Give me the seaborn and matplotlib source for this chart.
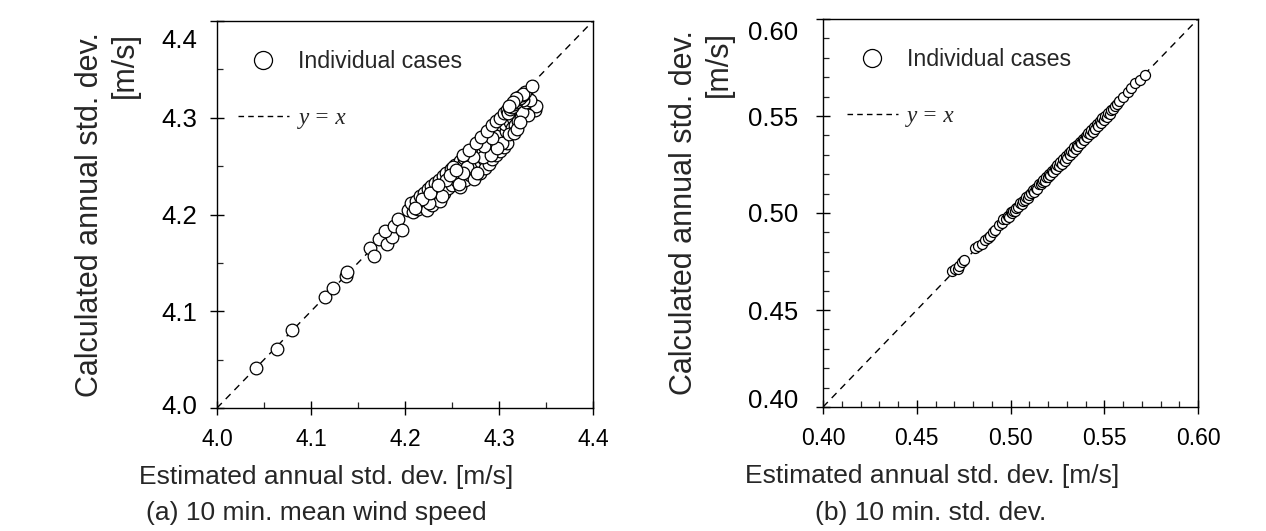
import matplotlib
matplotlib.use("Agg")
import matplotlib.pyplot as plt
import matplotlib.transforms as mtransforms
from matplotlib.lines import Line2D
from matplotlib.ticker import MultipleLocator, FormatStrFormatter
import seaborn as sns
import pandas as pd

# ---------------- data ----------------
# (a) 10 min. mean wind speed
a_est = [4.042, 4.064, 4.080, 4.115, 4.123, 4.137, 4.138, 4.163, 4.167, 4.172,
         4.181, 4.186, 4.179, 4.188, 4.193, 4.197, 4.203, 4.209, 4.206,
         4.212, 4.214, 4.216, 4.218, 4.220, 4.221, 4.223, 4.224, 4.226, 4.228, 4.229, 4.231,
         4.232, 4.234, 4.236, 4.237, 4.238, 4.240, 4.241, 4.243, 4.244, 4.246, 4.247, 4.249, 4.250,
         4.252, 4.253, 4.255, 4.256, 4.258, 4.259, 4.260, 4.261, 4.263, 4.264, 4.265, 4.267, 4.268, 4.269,
         4.270, 4.271, 4.272, 4.273, 4.274, 4.275, 4.276, 4.278, 4.279, 4.280, 4.281, 4.282, 4.283,
         4.284, 4.285, 4.286, 4.287, 4.288, 4.289,
         4.290, 4.291, 4.292, 4.293, 4.294, 4.295, 4.296, 4.297, 4.298, 4.299, 4.300, 4.301, 4.302,
         4.303, 4.304, 4.305, 4.306, 4.307, 4.308, 4.309,
         4.244, 4.251, 4.257, 4.266, 4.277, 4.283, 4.291, 4.297, 4.303, 4.307, 4.313, 4.298,
         4.262, 4.239, 4.226, 4.218, 4.211, 4.227, 4.235, 4.248, 4.254, 4.272, 4.284, 4.293,
         4.306, 4.319, 4.327, 4.336, 4.330, 4.323,
         4.312, 4.315, 4.318, 4.321, 4.314, 4.317, 4.320, 4.323, 4.311, 4.316, 4.319,
         4.325, 4.328, 4.330, 4.332, 4.334, 4.336, 4.338, 4.339, 4.327, 4.331, 4.324, 4.329, 4.333, 4.326, 4.322,
         4.262, 4.268, 4.275, 4.281, 4.287, 4.293, 4.297, 4.301, 4.305, 4.309, 4.313, 4.317,
         4.321, 4.325, 4.328,
         4.310, 4.312, 4.314, 4.316, 4.318, 4.320, 4.322, 4.324, 4.326, 4.318, 4.315, 4.311, 4.335]
a_calc = [4.041, 4.061, 4.081, 4.115, 4.124, 4.136, 4.141, 4.165, 4.157, 4.175,
          4.170, 4.177, 4.183, 4.188, 4.195, 4.184, 4.205, 4.203, 4.212,
          4.214, 4.206, 4.219, 4.209, 4.222, 4.213, 4.205, 4.226, 4.217, 4.229, 4.210, 4.221,
          4.233, 4.225, 4.236, 4.214, 4.229, 4.240, 4.222, 4.233, 4.243, 4.227, 4.238, 4.247, 4.231,
          4.242, 4.251, 4.235, 4.246, 4.255, 4.228, 4.240, 4.250, 4.258, 4.236, 4.245, 4.262, 4.253, 4.241,
          4.266, 4.257, 4.246, 4.237, 4.269, 4.260, 4.251, 4.272, 4.263, 4.243, 4.254, 4.276, 4.266,
          4.257, 4.248, 4.279, 4.270, 4.261, 4.252,
          4.283, 4.274, 4.265, 4.257, 4.288, 4.279, 4.270, 4.262, 4.292, 4.284, 4.275, 4.266, 4.296,
          4.288, 4.279, 4.270, 4.300, 4.291, 4.283, 4.274,
          4.236, 4.249, 4.232, 4.249, 4.243, 4.259, 4.262, 4.281, 4.274, 4.286, 4.292, 4.269,
          4.243, 4.219, 4.212, 4.216, 4.207, 4.222, 4.231, 4.241, 4.246, 4.259, 4.271, 4.279,
          4.294, 4.301, 4.309, 4.313, 4.321, 4.315,
          4.296, 4.300, 4.304, 4.308, 4.289, 4.293, 4.297, 4.301, 4.283, 4.284, 4.288,
          4.313, 4.311, 4.309, 4.306, 4.312, 4.310, 4.308, 4.312, 4.304, 4.303, 4.306, 4.316, 4.318, 4.318, 4.296,
          4.262, 4.267, 4.274, 4.280, 4.286, 4.292, 4.297, 4.300, 4.305, 4.308, 4.313, 4.317,
          4.321, 4.324, 4.327,
          4.305, 4.309, 4.311, 4.314, 4.316, 4.319, 4.320, 4.323, 4.325, 4.320, 4.316, 4.312, 4.333]

# (b) 10 min. std. dev.
b_est = [0.4690, 0.4705, 0.4718, 0.4725, 0.4740, 0.4752, 0.4810, 0.4828, 0.4846, 0.4862,
         0.4878, 0.4890, 0.4905, 0.4917, 0.4940, 0.4955, 0.4962, 0.4975, 0.4985, 0.4992,
         0.5000, 0.5008, 0.5015, 0.5022, 0.5030, 0.5040, 0.5052, 0.5060, 0.5068, 0.5075,
         0.5085, 0.5092, 0.5100, 0.5110, 0.5118, 0.5125, 0.5135, 0.5142, 0.5150, 0.5160,
         0.5168, 0.5175, 0.5182, 0.5190, 0.5198, 0.5205, 0.5212, 0.5220, 0.5228, 0.5235,
         0.5242, 0.5250, 0.5258, 0.5265, 0.5272, 0.5280, 0.5288, 0.5295, 0.5302, 0.5310,
         0.5318, 0.5325, 0.5332, 0.5340, 0.5348, 0.5355, 0.5362, 0.5370, 0.5378, 0.5385,
         0.5392, 0.5400, 0.5408, 0.5415, 0.5422, 0.5430, 0.5438, 0.5445, 0.5452, 0.5460,
         0.5468, 0.5475, 0.5482, 0.5490, 0.5498, 0.5505, 0.5512, 0.5520, 0.5528, 0.5535,
         0.5545, 0.5555, 0.5568, 0.5580, 0.5602, 0.5625, 0.5645, 0.5664, 0.5690, 0.5717]
b_calc = [0.4702, 0.4710, 0.4712, 0.4728, 0.4745, 0.4760, 0.4818, 0.4830, 0.4838, 0.4860,
          0.4872, 0.4880, 0.4903, 0.4912, 0.4936, 0.4948, 0.4970, 0.4968, 0.4982, 0.4978,
          0.5005, 0.5000, 0.5012, 0.5010, 0.5025, 0.5032, 0.5050, 0.5048, 0.5062, 0.5068,
          0.5083, 0.5075, 0.5095, 0.5102, 0.5118, 0.5110, 0.5130, 0.5125, 0.5148, 0.5152,
          0.5160, 0.5170, 0.5164, 0.5188, 0.5185, 0.5200, 0.5198, 0.5218, 0.5212, 0.5230,
          0.5225, 0.5248, 0.5240, 0.5262, 0.5255, 0.5276, 0.5270, 0.5292, 0.5285, 0.5308,
          0.5300, 0.5322, 0.5315, 0.5338, 0.5330, 0.5352, 0.5345, 0.5368, 0.5360, 0.5382,
          0.5375, 0.5398, 0.5390, 0.5412, 0.5405, 0.5428, 0.5420, 0.5443, 0.5435, 0.5458,
          0.5450, 0.5472, 0.5465, 0.5488, 0.5480, 0.5502, 0.5495, 0.5518, 0.5510, 0.5532,
          0.5538, 0.5552, 0.5560, 0.5578, 0.5599, 0.5622, 0.5642, 0.5668, 0.5688, 0.5713]

a_lim = [4.0, 4.4]
b_lim = [0.40, 0.60]
a_ticks = [4.0, 4.1, 4.2, 4.3, 4.4]
b_ticks = [0.40, 0.45, 0.50, 0.55, 0.60]

x_label = "Estimated annual std. dev. [m/s]"
y_label = "Calculated annual std. dev.\n[m/s]"
subtitles = ["(a) 10 min. mean wind speed", "(b) 10 min. std. dev."]
leg_labels = ["Individual cases", "y = x"]

# ---------------- style ----------------
sns.set_style("ticks")
plt.rcParams["font.family"] = ["Liberation Sans", "DejaVu Sans"]
plt.rcParams["axes.linewidth"] = 1.0

fig = plt.figure(figsize=(12.66, 5.31), dpi=100)
W, H = 1266, 531

def frac(x0, x1, ytop, ybot):
    return [x0 / W, 1 - ybot / H, (x1 - x0) / W, (ybot - ytop) / H]

ax_a = fig.add_axes(frac(217, 593, 21, 408))
ax_b = fig.add_axes(frac(823, 1198, 19, 407))

# ax, x, y, limits, ticks, minor step, format, marker size, subtitle,
# (top/bottom ytick label shift px), ytick pad, ylabel pad, subtitle x, legend x
panels = [
    (ax_a, a_est, a_calc, a_lim, a_ticks, 0.05, "%.1f", 83, subtitles[0], (-17, 3), 9.0, 16, 0.265, 0.055),
    (ax_b, b_est, b_calc, b_lim, b_ticks, 0.01, "%.2f", 52, subtitles[1], (-12, 8), 13.0, 10, 0.288, 0.063),
]

dash = (0, (5, 4))
for ax, xe, yc, lim, ticks, minor, fmt, msize, sub, shifts, ypad, lpad, subx, legx in panels:
    df = pd.DataFrame({"est": xe, "calc": yc})
    ax.plot(lim, lim, color="black", lw=1.0, linestyle=dash, zorder=1)
    sns.scatterplot(data=df, x="est", y="calc", ax=ax, s=msize, color="white",
                    edgecolor="black", linewidth=0.9, zorder=3, legend=False)
    ax.set_xlim(lim)
    ax.set_ylim(lim)
    ax.set_xticks(ticks)
    ax.set_yticks(ticks)
    ax.xaxis.set_minor_locator(MultipleLocator(minor))
    ax.yaxis.set_minor_locator(MultipleLocator(minor))
    ax.xaxis.set_major_formatter(FormatStrFormatter(fmt))
    ax.yaxis.set_major_formatter(FormatStrFormatter(fmt))
    ax.tick_params(which="major", direction="inout", length=10, width=1.0, colors="black")
    ax.tick_params(axis="x", which="major", labelsize=16.5, pad=9.5)
    ax.tick_params(axis="y", which="major", labelsize=18.5, pad=ypad)
    ax.tick_params(which="minor", direction="in", length=4.5, width=0.9)
    for s in ax.spines.values():
        s.set_visible(True)
        s.set_color("black")
        s.set_linewidth(1.0)
    ax.set_xlabel(x_label, fontsize=19)
    ax.set_ylabel(y_label, fontsize=22, multialignment="right", labelpad=lpad)
    ax.xaxis.set_label_coords(0.29, -0.148)
    ax.text(subx, -0.272, sub, transform=ax.transAxes, ha="center", va="center",
            fontsize=19)
    # shift edge y tick labels inwards as in reference
    fig.canvas.draw()
    ylabs = ax.get_yticklabels()
    top_off = mtransforms.ScaledTranslation(0, shifts[0] / 100, fig.dpi_scale_trans)
    bot_off = mtransforms.ScaledTranslation(0, shifts[1] / 100, fig.dpi_scale_trans)
    ylabs[-1].set_transform(ylabs[-1].get_transform() + top_off)
    ylabs[0].set_transform(ylabs[0].get_transform() + bot_off)

    handles = [
        Line2D([], [], marker="o", ls="none", mfc="white", mec="black", ms=13, mew=0.9),
        Line2D([], [], color="black", lw=1.0, linestyle=(0, (4, 3))),
    ]
    leg = ax.legend(handles, leg_labels, loc="upper left", bbox_to_anchor=(legx, 0.925),
                    frameon=False, fontsize=16.7, handlelength=2.2, handletextpad=0.42,
                    labelspacing=1.5, borderpad=0, borderaxespad=0)
    t = leg.get_texts()[1]
    t.set_fontfamily("Liberation Serif")
    t.set_fontstyle("italic")

fig.savefig("out.png", dpi=100)
